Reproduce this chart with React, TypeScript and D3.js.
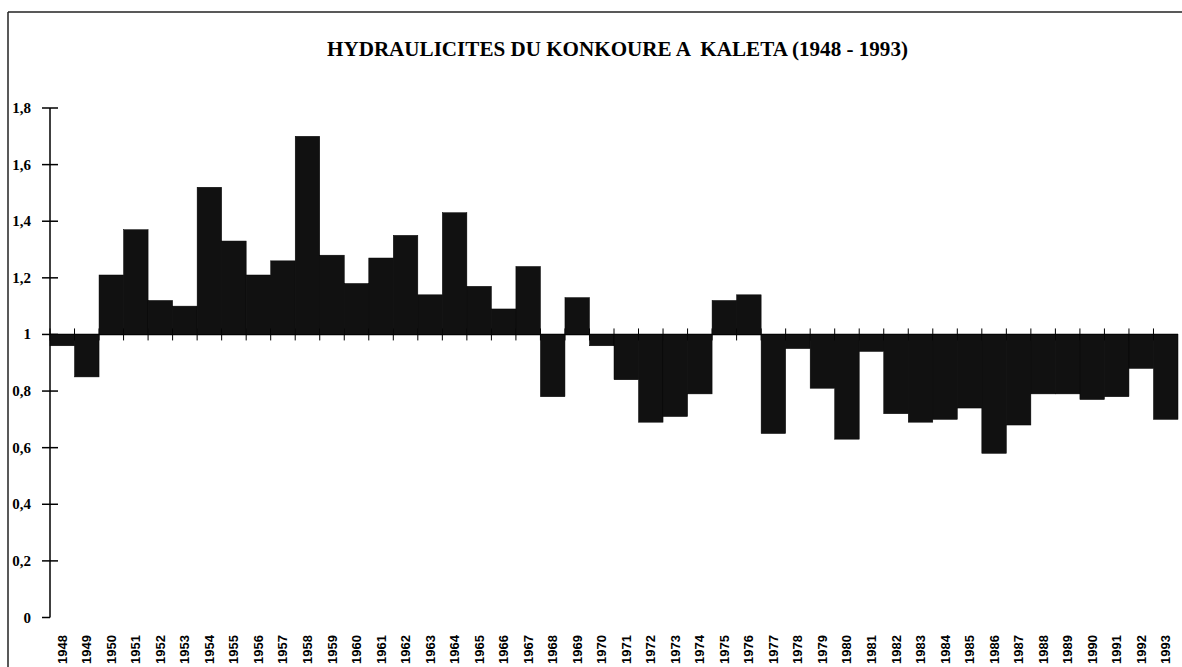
import * as d3 from "d3";

const years = d3.range(1948, 1994).map(String);
const values = [
  0.96, 0.85, 1.21, 1.37, 1.12, 1.1, 1.52, 1.33, 1.21, 1.26,
  1.7, 1.28, 1.18, 1.27, 1.35, 1.14, 1.43, 1.17, 1.09, 1.24,
  0.78, 1.13, 0.96, 0.84, 0.69, 0.71, 0.79, 1.12, 1.14, 0.65,
  0.95, 0.81, 0.63, 0.94, 0.72, 0.69, 0.7, 0.74, 0.58, 0.68,
  0.79, 0.79, 0.77, 0.78, 0.88, 0.7,
];
const yTicks = [0, 0.2, 0.4, 0.6, 0.8, 1, 1.2, 1.4, 1.6, 1.8];
const title = "HYDRAULICITES DU KONKOURE A  KALETA (1948 - 1993)";

export default function App() {
  const width = 1182,
    height = 667,
    left = 50,
    right = 1178,
    tickLen = 8;

  const x = d3.scaleBand().domain(years).range([left, right]).padding(0);
  const y = d3.scaleLinear().domain([0, 1.8]).range([617.5, 108]);
  const base = y(1);
  const fmt = (v: number) => String(Math.round(v * 10) / 10).replace(".", ",");

  return (
    <svg
      width={width}
      height={height}
      style={{ position: "absolute", left: 0, top: 0, background: "#fff" }}
    >
      {/* frame */}
      <line x1={8} y1={12} x2={width} y2={12} stroke="#222" strokeWidth={1.5} />
      <line x1={8} y1={12} x2={8} y2={height} stroke="#222" strokeWidth={1.5} />

      <text
        x={327}
        y={56}
        textLength={581}
        lengthAdjust="spacingAndGlyphs"
        fontFamily="'Liberation Serif', serif"
        fontWeight="bold"
        fontSize={20}
        fill="#000"
        style={{ whiteSpace: "pre" }}
      >
        {title}
      </text>

      {/* y axis */}
      <line x1={left} y1={y(1.8)} x2={left} y2={y(0)} stroke="#000" strokeWidth={1.5} />
      {yTicks.map((t) => (
        <g key={t}>
          <line
            x1={left - tickLen}
            x2={t === 0 ? left : left + tickLen}
            y1={y(t)}
            y2={y(t)}
            stroke="#000"
            strokeWidth={1.5}
          />
          <text
            x={31}
            y={y(t)}
            textAnchor="end"
            dominantBaseline="central"
            fontFamily="'Liberation Serif', serif"
            fontWeight="bold"
            fontSize={15}
          >
            {fmt(t)}
          </text>
        </g>
      ))}

      {/* axis at 1 with ticks at band boundaries */}
      <line x1={left} x2={right} y1={base} y2={base} stroke="#000" strokeWidth={1.5} />
      {years.map((yr) => (
        <line
          key={"t" + yr}
          x1={x(yr)!}
          x2={x(yr)!}
          y1={base - 6}
          y2={base + 6}
          stroke="#000"
          strokeWidth={1}
        />
      ))}

      {/* bars */}
      {years.map((yr, i) => {
        const v = values[i];
        const top = Math.min(y(v), base);
        const h = Math.abs(y(v) - base);
        return (
          <rect
            key={yr}
            x={x(yr)!}
            y={top}
            width={x.bandwidth()}
            height={h}
            fill="#111"
            stroke="#000"
            strokeWidth={0.5}
          />
        );
      })}

      {/* x labels */}
      {years.map((yr) => {
        const cx = x(yr)! + x.bandwidth() / 2;
        return (
          <text
            key={"l" + yr}
            transform={`translate(${cx},635) rotate(-90)`}
            textAnchor="end"
            dominantBaseline="central"
            fontFamily="'Liberation Sans', sans-serif"
            fontWeight="bold"
            fontSize={13}
          >
            {yr}
          </text>
        );
      })}
    </svg>
  );
}
